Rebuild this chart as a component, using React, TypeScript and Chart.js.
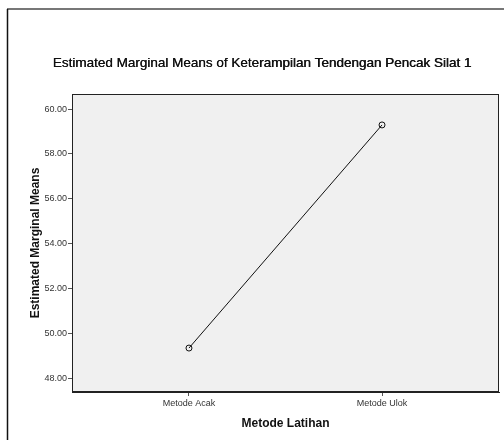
import React, { useEffect, useRef } from "react";
import { Chart, registerables } from "chart.js";

Chart.register(...registerables);

const chartTitle = "Estimated Marginal Means of Keterampilan Tendengan Pencak Silat 1";
const categories = ["Metode Acak", "Metode Ulok"];
const meanValues = [49.34, 59.29];
const yTickValues = [48, 50, 52, 54, 56, 58, 60];
const xAxisTitle = "Metode Latihan";
const yAxisTitle = "Estimated Marginal Means";

const FONT = "'Liberation Sans', Arial, sans-serif";

const framePlugin = {
  id: "frame",
  beforeDraw(chart: any) {
    const { ctx, chartArea } = chart;
    ctx.save();
    ctx.fillStyle = "#ffffff";
    ctx.fillRect(0, 0, chart.width, chart.height);
    // outer frame
    ctx.strokeStyle = "#777777";
    ctx.lineWidth = 2;
    ctx.beginPath();
    ctx.moveTo(7, 9);
    ctx.lineTo(chart.width, 9);
    ctx.stroke();
    ctx.strokeStyle = "#111111";
    ctx.lineWidth = 1.5;
    ctx.beginPath();
    ctx.moveTo(7.5, 9);
    ctx.lineTo(7.5, chart.height);
    ctx.stroke();
    // plot background
    ctx.fillStyle = "#f0f0f0";
    ctx.fillRect(chartArea.left, chartArea.top, chartArea.right - chartArea.left, chartArea.bottom - chartArea.top);
    // chart title
    ctx.fillStyle = "#111111";
    ctx.font = `13.5px ${FONT}`;
    ctx.textAlign = "center";
    ctx.textBaseline = "middle";
    ctx.fillText(chartTitle, 262, 63);
    ctx.fillText(chartTitle, 262.4, 63);
    ctx.restore();
  },
  afterDraw(chart: any) {
    const { ctx, chartArea } = chart;
    ctx.save();
    ctx.strokeStyle = "#222222";
    ctx.lineWidth = 1;
    ctx.strokeRect(chartArea.left + 0.5, chartArea.top + 0.5, chartArea.right - chartArea.left - 1, chartArea.bottom - chartArea.top - 1);
    ctx.restore();
  },
};

export default function App() {
  const canvasRef = useRef<HTMLCanvasElement | null>(null);

  useEffect(() => {
    if (!canvasRef.current) return;
    const chart = new Chart(canvasRef.current, {
      type: "line",
      data: {
        datasets: [
          {
            data: meanValues.map((v, i) => ({ x: i, y: v })),
            borderColor: "#111111",
            borderWidth: 1,
            pointRadius: 3,
            pointBorderWidth: 1,
            pointBorderColor: "#111111",
            pointBackgroundColor: "rgba(0,0,0,0)",
            tension: 0,
            fill: false,
          },
        ],
      },
      options: {
        responsive: false,
        animation: false,
        layout: { padding: { left: 0, right: 5, top: 94, bottom: 0 } },
        plugins: {
          legend: { display: false },
          tooltip: { enabled: false },
          title: { display: false },
        },
        scales: {
          x: {
            type: "linear",
            min: -0.606,
            max: 1.606,
            afterBuildTicks: (scale: any) => {
              scale.ticks = categories.map((_, i) => ({ value: i }));
            },
            afterFit: (scale: any) => {
              scale.height = 48;
            },
            ticks: {
              callback: (v: any) => categories[v as number] ?? "",
              color: "#333333",
              font: { family: FONT, size: 9 },
              padding: 2,
              maxRotation: 0,
              autoSkip: false,
            },
            grid: { drawOnChartArea: false, drawTicks: true, tickLength: 4, color: "#555555" },
            border: { display: true, color: "#222222" },
            title: {
              display: true,
              text: xAxisTitle,
              color: "#111111",
              font: { family: FONT, size: 12, weight: "bold" },
              padding: { top: 0, bottom: 9 },
            },
          },
          y: {
            type: "linear",
            min: 47.38,
            max: 60.67,
            afterBuildTicks: (scale: any) => {
              scale.ticks = yTickValues.map((v) => ({ value: v }));
            },
            afterFit: (scale: any) => {
              scale.width = 72;
            },
            ticks: {
              callback: (v: any) => Number(v).toFixed(2),
              color: "#333333",
              font: { family: FONT, size: 9 },
              padding: 1,
            },
            grid: { drawOnChartArea: false, drawTicks: true, tickLength: 4, color: "#555555" },
            border: { display: true, color: "#222222" },
            title: {
              display: true,
              text: yAxisTitle,
              color: "#111111",
              font: { family: FONT, size: 12, weight: "bold" },
              padding: { top: 28, bottom: 0 },
            },
          },
        },
      } as any,
      plugins: [framePlugin],
    });
    return () => chart.destroy();
  }, []);

  return (
    <div style={{ position: "fixed", left: 0, top: 0, width: 504, height: 440, background: "#fff" }}>
      <canvas ref={canvasRef} width={504} height={440} style={{ display: "block" }} />
    </div>
  );
}
